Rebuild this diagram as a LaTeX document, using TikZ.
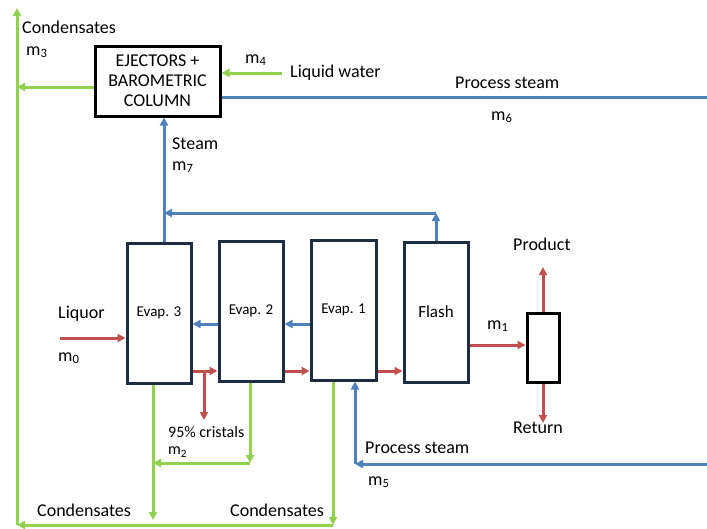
\documentclass[tikz,border=0pt]{standalone}
\usepackage{fontspec}
\setmainfont{Carlito}
\usetikzlibrary{arrows.meta}
\definecolor{grn}{HTML}{92D050}
\definecolor{blu}{HTML}{4F81BD}
\definecolor{rd}{HTML}{C0504D}
\definecolor{navy}{HTML}{1F2D44}
\tikzset{
  flowg/.style={draw=grn, line width=3pt},
  flowb/.style={draw=blu, line width=3pt},
  flowr/.style={draw=rd, line width=3pt},
  unitbox/.style={draw=navy, fill=white, line width=3pt, minimum width=64pt,
    minimum height=140pt, inner sep=0pt, font=\fontsize{15}{18}\selectfont},
  lbl/.style={inner sep=0pt, anchor=west, font=\fontsize{18}{21}\selectfont},
  smalllbl/.style={lbl, font=\fontsize{16}{19}\selectfont},
}
\begin{document}
\begin{tikzpicture}[x=1pt, y=-1pt, >={Triangle[length=8pt,width=8pt]}]
\useasboundingbox (0,0) rectangle (707,528);

% equipment
\node[draw=black, fill=white, line width=3pt, minimum width=125pt, minimum height=70pt,
      inner sep=0pt, align=center, font=\fontsize{18}{20}\selectfont]
      (ej) at (157.5,81) {EJECTORS +\\BAROMETRIC\\COLUMN};
\node[unitbox] (e3) at (159,313) {Evap. 3};
\node[unitbox] (e2) at (251,311) {Evap. 2};
\node[unitbox, minimum width=65pt] (e1) at (343.5,310) {Evap. 1};
\node[unitbox, font=\fontsize{17}{20}\selectfont] (fl) at (436,312) {Flash};
\node[draw=black, fill=white, line width=3pt, minimum width=32pt, minimum height=69pt,
      inner sep=0pt] (pb) at (543,347.5) {};

% reference coordinates
\coordinate (topL) at (17,8);
\coordinate (botL) at (17,525);
\coordinate (rEdgeT) at (707,97);
\coordinate (rEdgeB) at (707,464);
\coordinate (cond2) at (250,463);
\coordinate (stm5) at (355,464);
\coordinate (rec) at (436,213);
\coordinate (recEnd) at (164,213);
\coordinate (liqIn) at (60,338);
\coordinate (waterIn) at (282,73);
\coordinate (prodOut) at (543,267);
\coordinate (retOut) at (543,423);
\coordinate (crisOut) at (204,420);
\coordinate (lvB) at (0,324);
\coordinate (lvR) at (0,371);
\coordinate (lvF) at (0,345);

% condensate network
\draw[flowg,->] (botL) -- (topL);
\draw[flowg,->] (ej.west |- 0,87) -- (topL |- 0,87);
\draw[flowg,->] (waterIn) -- (ej.east |- waterIn);
\draw[flowg,->] (333,0 |- e1.south) -- (333,525);
\draw[flowg,->] (333,525) -- (botL);
\draw[flowg,->] (153,0 |- e3.south) -- (153,520);
\draw[flowg,->] (cond2 |- e2.south) -- (cond2);
\draw[flowg,->] (cond2) -- (153,463);

% steam network
\draw[flowb] (ej.east |- rEdgeT) -- (rEdgeT);
\draw[flowb,->] (recEnd |- e3.north) -- (recEnd |- ej.south);
\draw[flowb,->] (fl.north) -- (rec);
\draw[flowb,->] (rec) -- (recEnd);
\draw[flowb,->] (e2.west |- lvB) -- (e3.east |- lvB);
\draw[flowb,->] (e1.west |- lvB) -- (e2.east |- lvB);
\draw[flowb,->] (rEdgeB) -- (stm5);
\draw[flowb,->] (stm5) -- (stm5 |- e1.south);

% liquor network
\draw[flowr,->] (liqIn) -- (e3.west |- liqIn);
\draw[flowr,->] (e3.east |- lvR) -- (e2.west |- lvR);
\draw[flowr,->] (e2.east |- lvR) -- (e1.west |- lvR);
\draw[flowr,->] (e1.east |- lvR) -- (fl.west |- lvR);
\draw[flowr,->] (crisOut |- lvR) -- (crisOut);
\draw[flowr,->] (fl.east |- lvF) -- (pb.west |- lvF);
\draw[flowr,->] (pb.north) -- (prodOut);
\draw[flowr,->] (pb.south) -- (retOut);

% labels
\node[lbl] (tCondTop) at (22,27) {Condensates};
\node[lbl] (tm3) at (26,52) {m\textsubscript{3}};
\node[lbl] (tm4) at (245,60) {m\textsubscript{4}};
\node[lbl] (tWater) at (290,73) {Liquid water};
\node[lbl] (tPs6) at (455,83) {Process steam};
\node[lbl] (tm6) at (491,117) {m\textsubscript{6}};
\node[lbl] (tSteam) at (172,144) {Steam};
\node[lbl] (tm7) at (172,167) {m\textsubscript{7}};
\node[lbl] (tLiq) at (58,314) {Liquor};
\node[lbl] (tm0) at (58,358) {m\textsubscript{0}};
\node[lbl] (tProd) at (513,244) {Product};
\node[lbl] (tm1) at (487,326) {m\textsubscript{1}};
\node[smalllbl] (tCris) at (168,432) {95\% cristals};
\node[smalllbl] (tm2) at (168,452) {m\textsubscript{2}};
\node[lbl] (tRet) at (513,428) {Return};
\node[lbl] (tPs5) at (365,448) {Process steam};
\node[lbl] (tm5) at (368,482) {m\textsubscript{5}};
\node[lbl] (tCondA) at (37,510) {Condensates};
\node[lbl] (tCondB) at (230,510) {Condensates};
\end{tikzpicture}
\end{document}
